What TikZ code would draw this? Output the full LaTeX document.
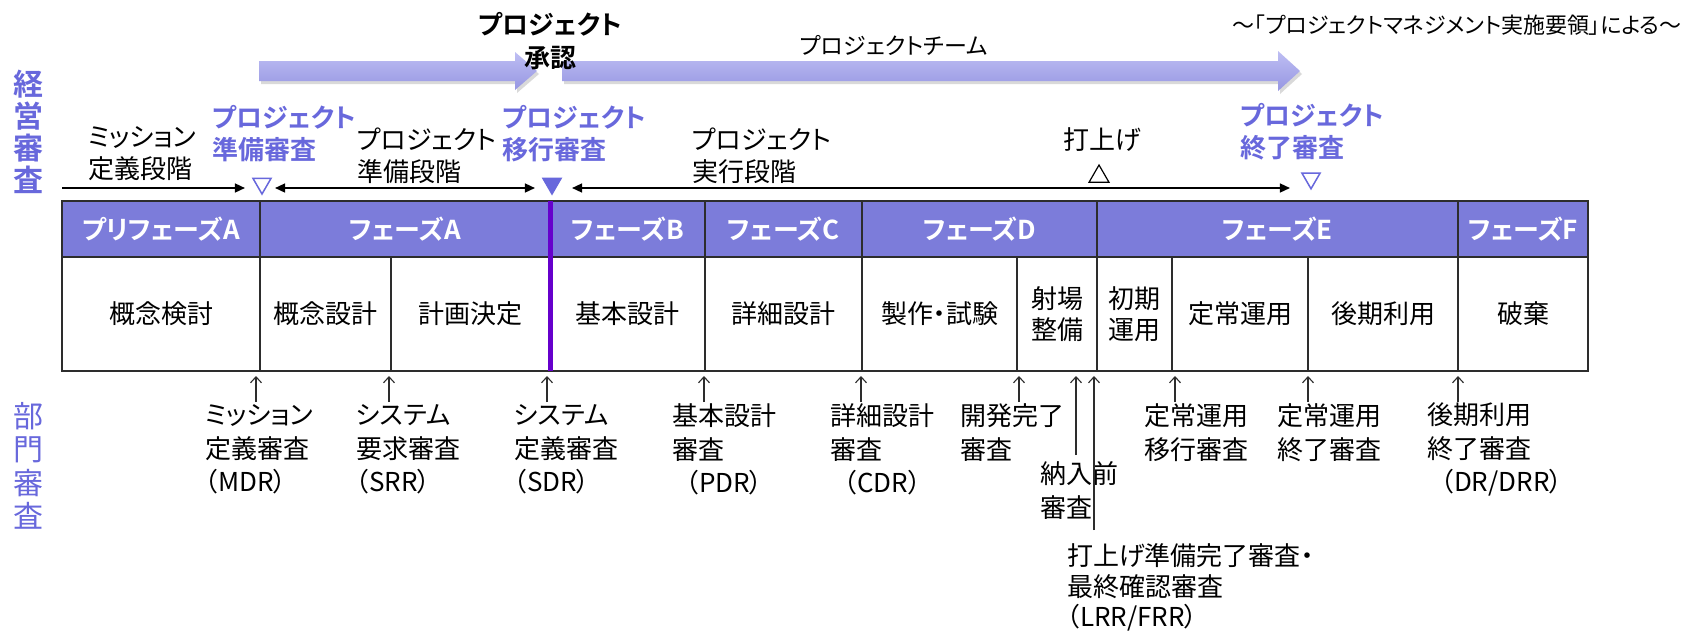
\documentclass[tikz,border=0pt]{standalone}
\usepackage{fontspec}
\setmainfont{Noto Sans CJK JP}[BoldFont={Noto Sans CJK JP Bold},RawFeature={+palt}]
\usetikzlibrary{arrows.meta,shapes.geometric}
\definecolor{hdrfill}{RGB}{124,124,218}
\definecolor{bluetxt}{RGB}{104,104,220}
\definecolor{tline}{RGB}{45,45,45}
\definecolor{violetline}{RGB}{102,0,204}
\definecolor{arrtop}{RGB}{190,190,243}
\definecolor{arrbot}{RGB}{150,150,226}
\begin{document}
\begin{tikzpicture}[x=1pt,y=-1pt,
  every node/.style={inner sep=0pt,outer sep=0pt},
  body/.style={font=\fontsize{26}{32}\selectfont,align=left,text=black},
  bluebold/.style={font=\bfseries\fontsize{26}{32}\selectfont,align=left,text=bluetxt},
  low/.style={font=\fontsize{26}{33.5}\selectfont,align=left,text=black},
  hdr/.style={draw=tline,line width=1.8pt,fill=hdrfill,minimum height=56pt,text=white,font=\bfseries\fontsize{26}{30}\selectfont},
  cell/.style={draw=tline,line width=1.8pt,fill=white,minimum height=114pt,font=\fontsize{26}{31}\selectfont,align=center},
  phasearr/.style={draw=black,line width=1.5pt},
  tipR/.style={-{Triangle[length=10pt,width=9pt]}},
  tipLR/.style={{Triangle[length=10pt,width=9pt]}-{Triangle[length=10pt,width=9pt]}},
  uparr/.style={draw=tline,line width=1.1pt,-{Straight Barb[length=6pt,width=11pt]}},
  tridown/.style={regular polygon,regular polygon sides=3,shape border rotate=180,minimum size=21pt,line width=1.5pt},
  bigarr/.style={top color=arrtop,bottom color=arrbot}
]
\useasboundingbox (0,0) rectangle (1696,633);
\fill[white] (0,0) rectangle (1696,633);

% side labels
\node[font=\bfseries\fontsize{30}{32}\selectfont,text=bluetxt,align=center] (keiei) at (28,132) {経\\営\\審\\査};
\node[font=\fontsize{30}{33.5}\selectfont,text=bluetxt,align=center] (bumon) at (28,466) {部\\門\\審\\査};

% big arrows
\fill[black,opacity=0.15] (261,64) -- (517,64) -- (517,55) -- (539,74) -- (517,93) -- (517,84) -- (261,84) -- cycle;
\shade[bigarr] (259,61) -- (515,61) -- (515,52) -- (537,71) -- (515,90) -- (515,81) -- (259,81) -- cycle;
\fill[black,opacity=0.15] (564,64) -- (1280,64) -- (1280,54) -- (1302,74) -- (1280,94) -- (1280,84) -- (564,84) -- cycle;
\shade[bigarr] (562,61) -- (1278,61) -- (1278,51) -- (1300,71) -- (1278,91) -- (1278,81) -- (562,81) -- cycle;

\node[font=\bfseries\fontsize{26}{33}\selectfont,align=center] (appr) at (550,41.5) {プロジェクト\\承認};
\node[font=\fontsize{23}{28}\selectfont] (team) at (894,45) {プロジェクトチーム};
\node[font=\fontsize{22}{26}\selectfont] (ttl) at (1457,25) {～「プロジェクトマネジメント実施要領」による～};

% upper labels
\node[body,anchor=west] (msn) at (88,153.5) {ミッション\\定義段階};
\node[bluebold,anchor=west] (prv) at (212,134) {プロジェクト\\準備審査};
\node[body,anchor=west] (pph) at (357,156) {プロジェクト\\準備段階};
\node[bluebold,anchor=west] (trv) at (502,134) {プロジェクト\\移行審査};
\node[body,anchor=west] (eph) at (692,156) {プロジェクト\\実行段階};
\node[body] (lnch) at (1102,140) {打上げ};
\node[bluebold,anchor=west] (erv) at (1240,132) {プロジェクト\\終了審査};

% milestone triangles
\node[tridown,draw=bluetxt] (t1) at (262,183.5) {};
\node[tridown,draw=bluetxt,fill=bluetxt] (t2) at (552,183.5) {};
\node[regular polygon,regular polygon sides=3,minimum size=23pt,draw=black,line width=1.2pt] (t3) at (1099,176.5) {};
\node[tridown,draw=bluetxt] (t4) at (1311,178.3) {};

% phase arrows
\coordinate (s0) at (62,188);
\draw[phasearr,tipR,shorten >=11pt] (s0) -- (s0 -| t1.west);
\draw[phasearr,tipLR,shorten <=7pt,shorten >=11pt] (t1.east |- s0) -- (t2.west |- s0);
\draw[phasearr,tipLR,shorten <=14pt,shorten >=15pt] (t2.east |- s0) -- (t4.west |- s0);

% header row
\node[hdr,minimum width=198pt] (hPA) at (161,229) {プリフェーズA};
\node[hdr,minimum width=290pt] (hA) at (405,229) {フェーズA};
\node[hdr,minimum width=155pt] (hB) at (627.5,229) {フェーズB};
\node[hdr,minimum width=157pt] (hC) at (783.5,229) {フェーズC};
\node[hdr,minimum width=235pt] (hD) at (979.5,229) {フェーズD};
\node[hdr,minimum width=361pt] (hE) at (1277.5,229) {フェーズE};
\node[hdr,minimum width=130pt] (hF) at (1523,229) {フェーズF};

% body row
\node[cell,minimum width=198pt] (c1) at (161,314) {概念検討};
\node[cell,minimum width=131pt] (c2) at (325.5,314) {概念設計};
\node[cell,minimum width=159pt] (c3) at (470.5,314) {計画決定};
\node[cell,minimum width=155pt] (c4) at (627.5,314) {基本設計};
\node[cell,minimum width=157pt] (c5) at (783.5,314) {詳細設計};
\node[cell,minimum width=155pt] (c6) at (939.5,314) {製作・試験};
\node[cell,minimum width=80pt] (c7) at (1057,314) {射場\\整備};
\node[cell,minimum width=75pt] (c8) at (1134.5,314) {初期\\運用};
\node[cell,minimum width=136pt] (c9) at (1240,314) {定常運用};
\node[cell,minimum width=150pt] (c10) at (1383,314) {後期利用};
\node[cell,minimum width=130pt] (c11) at (1523,314) {破棄};

\draw[violetline,line width=5pt] (hA.north east) -- (c3.south east);

% lower labels
\node[low,anchor=west] (mdr) at (205,449.5) {ミッション\\定義審査\\（MDR）};
\node[low,anchor=west] (srr) at (356,449.5) {システム\\要求審査\\（SRR）};
\node[low,anchor=west] (sdr) at (514,449.5) {システム\\定義審査\\（SDR）};
\node[low,anchor=west] (pdr) at (672,449.5) {基本設計\\審査\\\hspace*{14pt}（PDR）};
\node[low,anchor=west] (cdr) at (830,449.5) {詳細設計\\審査\\\hspace*{14pt}（CDR）};
\node[low,anchor=west] (kdr) at (960,432.5) {開発完了\\審査};
\node[low,anchor=west] (nnr) at (1040,490.5) {納入前\\審査};
\node[font=\fontsize{26}{30.5}\selectfont,align=left,anchor=west] (lrr) at (1067,587.5) {打上げ準備完了審査・\\最終確認審査\\（LRR/FRR）};
\node[low,anchor=west] (tr1) at (1144,432.5) {定常運用\\移行審査};
\node[low,anchor=west] (tr2) at (1277,432.5) {定常運用\\終了審査};
\node[low,anchor=west] (drr) at (1427,449.5) {後期利用\\終了審査\\\hspace*{14pt}（DR/DRR）};

% review arrows
\coordinate (a1) at (256,376);  \coordinate (b1) at (256,402);
\coordinate (a2) at (389,376);  \coordinate (b2) at (389,402);
\coordinate (a3) at (547,376);  \coordinate (b3) at (547,402);
\coordinate (a4) at (704,376);  \coordinate (b4) at (704,402);
\coordinate (a5) at (861,376);  \coordinate (b5) at (861,402);
\coordinate (a6) at (1019,376); \coordinate (b6) at (1019,402);
\coordinate (a7) at (1076,376); \coordinate (b7) at (1076,455);
\coordinate (a8) at (1094,376); \coordinate (b8) at (1094,530);
\coordinate (a9) at (1175,376); \coordinate (b9) at (1175,402);
\coordinate (a10) at (1308,376); \coordinate (b10) at (1308,402);
\coordinate (a11) at (1458,376); \coordinate (b11) at (1458,402);
\foreach \i in {1,...,11} {\draw[uparr] (b\i) -- (a\i);}
\end{tikzpicture}
\end{document}
